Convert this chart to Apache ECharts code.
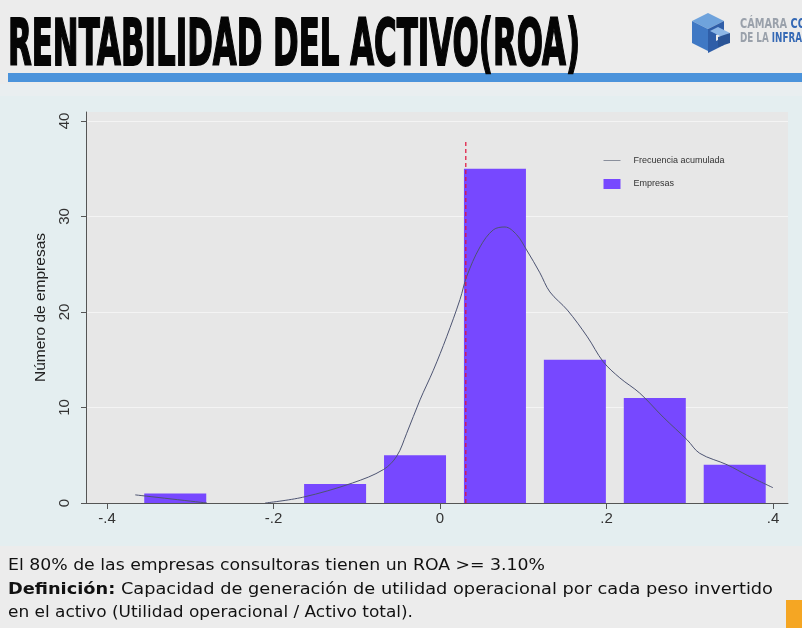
<!DOCTYPE html>
<html>
<head>
<meta charset="utf-8">
<script src="https://cdn.jsdelivr.net/npm/echarts@6/dist/echarts.min.js"></script>
<style>
  html, body { margin: 0; padding: 0; width: 802px; height: 628px; overflow: hidden; background: #ebebeb; }
  .abs { position: absolute; }
  #bgTop { left: 0; top: 0; width: 802px; height: 86px; background: #ececec; }
  #blueBar { left: 8px; top: 73px; width: 794px; height: 9px; background: #4b93db; }
  #bgChart { left: 0; top: 84px; width: 802px; height: 462px; background: #e4eef0; }
  #bgBand { left: 0; top: 84px; width: 802px; height: 12px; background: #e9eef0; }
  #bgBottom { left: 0; top: 546px; width: 802px; height: 82px; background: #ececec; }
  #chart { left: 0; top: 0; width: 802px; height: 628px; }
  #title { left: 8px; top: 11px; font-family: 'Liberation Sans Narrow', 'DejaVu Sans Condensed', sans-serif; font-weight: 900; font-size: 64px; line-height: 64px; color: #050505; white-space: nowrap; transform-origin: 0 0; -webkit-text-stroke: 1.8px #050505; }
  .note { left: 8px; font-family: 'DejaVu Sans Condensed', 'DejaVu Sans', sans-serif; font-size: 16.5px; line-height: 20px; color: #111; white-space: nowrap; transform-origin: 0 0; }
  #logoTxt1, #logoTxt2 { left: 740px; font-family: 'Liberation Sans Narrow', 'DejaVu Sans Condensed', sans-serif; font-weight: bold; font-size: 14px; line-height: 14px; white-space: nowrap; transform-origin: 0 0; }
  #orange { left: 786px; top: 600px; width: 16px; height: 28px; background: #f5a623; }
</style>
</head>
<body>
<div id="bgTop" class="abs"></div>
<div id="bgChart" class="abs"></div>
<div id="bgBand" class="abs"></div>
<div id="bgBottom" class="abs"></div>
<div id="blueBar" class="abs"></div>
<div id="chart" class="abs"></div>
<div id="title" class="abs">RENTABILIDAD DEL ACTIVO(ROA)</div>
<svg class="abs" style="left:688px;top:11px" width="46" height="44" viewBox="0 0 46 44">
  <polygon points="4,10 20,2 36,10 20,18" fill="#6fa3dc"/>
  <polygon points="4,10 20,18 20,40 4,32" fill="#3f78c4"/>
  <polygon points="20,18 36,10 36,20 28,24 28,30 36,26 36,34 20,42" fill="#2f5ea8"/>
  <polygon points="22,20 30,16 42,22 34,26" fill="#8cb6e6"/>
  <polygon points="30,26 42,22 42,32 30,36" fill="#2a5496"/>
</svg>
<div id="logoTxt1" class="abs" style="top:16px"><span style="color:#9aa1ab">CÁMARA </span><span style="color:#3569b5">CO</span></div>
<div id="logoTxt2" class="abs" style="top:30px"><span style="color:#9aa1ab">DE LA </span><span style="color:#3569b5">INFRAE</span></div>
<div id="l1" class="abs note" style="top:555px">El 80% de las empresas consultoras tienen un ROA &gt;= 3.10%</div>
<div id="l2" class="abs note" style="top:579px"><b>Definición:</b> Capacidad de generación de utilidad operacional por cada peso invertido</div>
<div id="l3" class="abs note" style="top:602px">en el activo (Utilidad operacional / Activo total).</div>
<div id="orange" class="abs"></div>
<script>
// ---- data ----
const binCenters = [-0.318, -0.126, -0.030, 0.066, 0.162, 0.258, 0.354];
const counts = [1, 2, 5, 35, 15, 11, 4];
const curveX = [-0.366, -0.280, null, -0.210, -0.165, -0.105, -0.068, -0.052, -0.040, -0.024, -0.008, 0.008, 0.024, 0.032, 0.048, 0.064, 0.078, 0.092, 0.104, 0.120, 0.132, 0.153, 0.177, 0.196, 0.216, 0.240, 0.268, 0.297, 0.312, 0.345, 0.369, 0.400];
const curveY = [0.85, 0.0, null, 0.0, 0.6, 2.1, 3.5, 4.9, 7.3, 10.8, 13.9, 17.4, 21.3, 23.7, 26.8, 28.6, 28.9, 28.1, 26.5, 24.1, 22.1, 20.2, 17.4, 14.8, 13.1, 11.5, 9.0, 6.6, 5.2, 4.0, 2.9, 1.6];
const roaCut = 0.031;
const roaCutTop = 38;
const xTickValues = [-0.4, -0.2, 0, 0.2, 0.4];
const yTickValues = [0, 10, 20, 30, 40];
const seriesNames = ['Frecuencia acumulada', 'Empresas'];

// ---- layout fitting for text ----
function fitWidth(id, target) {
  const el = document.getElementById(id);
  const w = el.getBoundingClientRect().width;
  el.style.transform = 'scaleX(' + (target / w) + ')';
}
fitWidth('title', 572);
fitWidth('l1', 537);
fitWidth('l2', 765);
fitWidth('l3', 405);
fitWidth('logoTxt1', 66);
fitWidth('logoTxt2', 68);

// ---- chart ----
const binW = 0.0961, barFrac = 0.775;
const chart = echarts.init(document.getElementById('chart'), null, { renderer: 'canvas' });
const fmtX = v => {
  const r = Math.round(v * 10) / 10;
  if (r === 0) return '0';
  return (r < 0 ? '-' : '') + String(Math.abs(r)).replace(/^0/, '');
};
chart.setOption({
  backgroundColor: 'transparent',
  animation: false,
  grid: { left: 86, right: 14, top: 112, bottom: 125, show: true, backgroundColor: '#e7e7e7', borderWidth: 0 },
  legend: {
    left: 598, top: 151, orient: 'vertical', itemWidth: 17, itemHeight: 10, itemGap: 14,
    textStyle: { fontSize: 9, color: '#333', fontFamily: 'Liberation Sans, Arial, sans-serif', padding: [0, 0, 0, 8] },
    data: [
      { name: seriesNames[0], itemStyle: { opacity: 0 }, lineStyle: { color: '#8a8f9c', width: 1 } },
      { name: seriesNames[1], icon: 'rect' }
    ]
  },
  xAxis: {
    type: 'value', min: -0.4252, max: 0.418,
    axisLine: { show: true, onZero: false, lineStyle: { color: '#555', width: 1 } },
    axisTick: { show: true, length: 6, customValues: xTickValues, lineStyle: { color: '#555' } },
    axisLabel: { customValues: xTickValues, formatter: fmtX, fontSize: 15, color: '#333', margin: 8, fontFamily: 'Liberation Sans, Arial, sans-serif' },
    splitLine: { show: false }
  },
  yAxis: {
    type: 'value', min: 0, max: 40.94,
    name: 'Número de empresas', nameLocation: 'middle', nameGap: 37, nameRotate: 90,
    nameTextStyle: { fontSize: 15.5, color: '#222', fontFamily: 'Liberation Sans Narrow, Liberation Sans, Arial, sans-serif' },
    axisLine: { show: true, onZero: false, lineStyle: { color: '#555', width: 1 } },
    axisTick: { show: true, length: 5, customValues: yTickValues, lineStyle: { color: '#555' } },
    axisLabel: { customValues: yTickValues, rotate: 90, fontSize: 15, color: '#333', margin: 14, fontFamily: 'Liberation Sans, Arial, sans-serif' },
    splitLine: { show: true, lineStyle: { color: '#f4f4f4', width: 1 } }
  },
  series: [
    {
      name: seriesNames[1], type: 'custom', z: 2,
      itemStyle: { color: '#7748ff' },
      encode: { x: 0, y: 1 },
      data: binCenters.map((c, i) => [c, counts[i]]),
      renderItem: function (params, api) {
        const x = api.value(0), y = api.value(1);
        const half = binW * barFrac / 2;
        const p1 = api.coord([x - half, y]);
        const p2 = api.coord([x + half, 0]);
        return { type: 'rect', shape: { x: p1[0], y: p1[1], width: p2[0] - p1[0], height: p2[1] - p1[1] }, style: { fill: '#7748ff' } };
      }
    },
    {
      name: seriesNames[0], type: 'line', z: 3, smooth: 0.35, symbol: 'none', showSymbol: false, connectNulls: false,
      lineStyle: { color: '#4d5472', width: 1 },
      itemStyle: { color: '#4d5472' },
      data: curveX.map((x, i) => x === null ? [null, null] : [x, curveY[i]])
    },
    {
      name: 'ROA', type: 'line', z: 4, symbol: 'none', silent: true,
      lineStyle: { color: '#e0103a', width: 1.2, type: [4, 3] },
      data: [[roaCut, 0], [roaCut, roaCutTop]]
    }
  ]
});
</script>
</body>
</html>
